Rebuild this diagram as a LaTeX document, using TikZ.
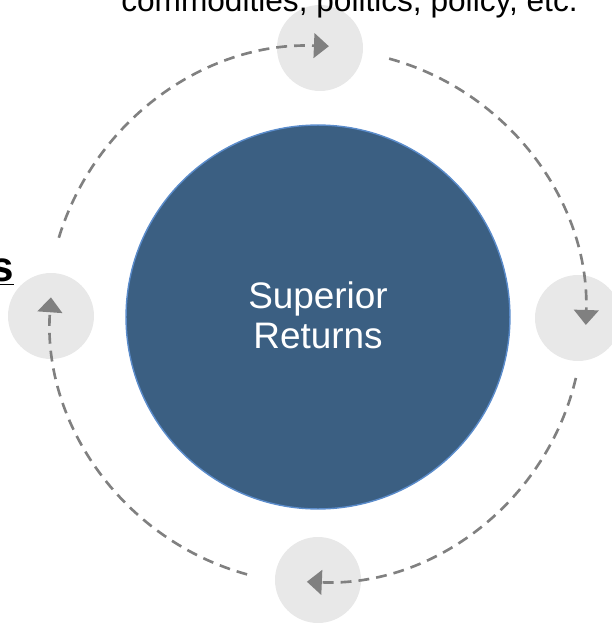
\documentclass[tikz,border=0pt]{standalone}
\usepackage{fontspec}
\setmainfont{Liberation Sans}
\usetikzlibrary{arrows.meta,positioning}
\definecolor{hubblue}{HTML}{3B5F82}
\definecolor{hubedge}{HTML}{5B8CCB}
\definecolor{dotgray}{HTML}{E8E8E8}
\definecolor{flowgray}{HTML}{808080}

\begin{document}
\begin{tikzpicture}[x=0.02cm,y=0.02cm,hub/.style={circle,fill=hubblue,draw=hubedge,line width=0.8pt,minimum size=7.68cm,inner sep=0pt},dot/.style={circle,fill=dotgray,minimum size=1.72cm,inner sep=0pt},flow/.style={draw=flowgray,line width=1.5pt,dash pattern=on 6.2pt off 4pt,-{Triangle[length=8.5pt,width=14pt]}}]
                      \useasboundingbox (-318,-306) rectangle (294,317);
                      \clip (-318,-306) rectangle (294,317);
                      \node[hub] (c0) at (0,0) {};
                      \node[dot] (n1) at (2,269) {};
                      \node[dot] (n2) at (260,-1) {};
                      \node[dot] (n3) at (0,-263) {};
                      \node[dot] (n4) at (-267,1) {};

                      \coordinate (s1) at (163:271);
                      \coordinate (s2) at (74.6:268);
                      \coordinate (s3) at (-13.3:265);
                      \coordinate (s4) at (254.6:267);

                      \draw[flow] (s1) arc[start angle=163,end angle=87.7,radius=271];
                      \draw[flow] (s2) arc[start angle=74.6,end angle=-1.7,radius=268];
                      \draw[flow] (s3) arc[start angle=-13.3,end angle=-92.4,radius=265];
                      \draw[flow] (s4) arc[start angle=254.6,end angle=176,radius=268];

                      \node[text=white,align=center,font=\fontsize{21}{22.7}\selectfont] (l0) at (0,2) {Superior\\Returns};
                      \node[anchor=base,font=\fontsize{18}{21}\selectfont] (l1) at (31.5,306) {commodities, politics, policy, etc.};
                      \node[anchor=base east,inner sep=0pt,font=\fontsize{24}{28}\selectfont\bfseries] (l2) at (-304,36) {\underline{s}};
                    \end{tikzpicture}
\end{document}
